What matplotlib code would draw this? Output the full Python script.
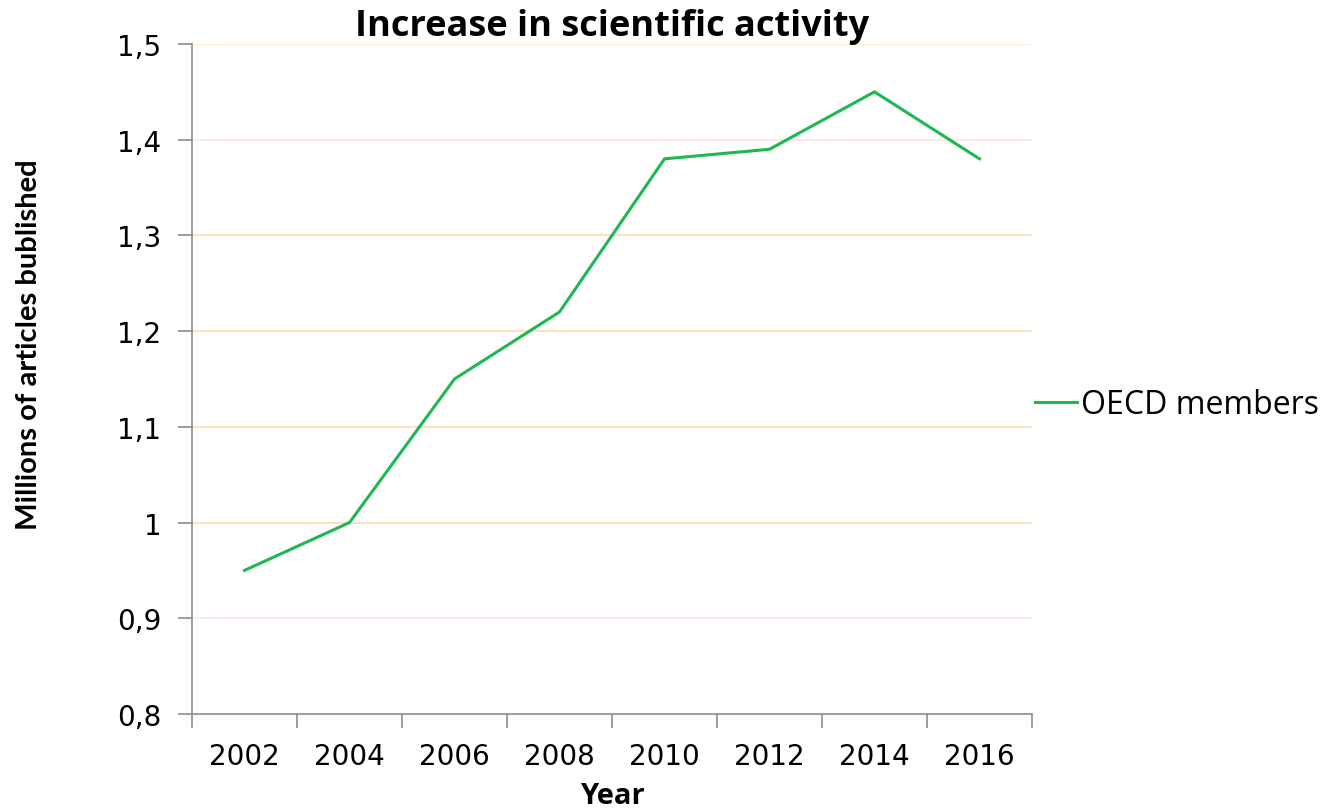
import matplotlib.pyplot as plt
from matplotlib.ticker import FixedLocator

years = ['2002', '2004', '2006', '2008', '2010', '2012', '2014', '2016']
oecd_articles = [0.95, 1.00, 1.15, 1.22, 1.38, 1.39, 1.45, 1.38]
y_ticks = [0.8, 0.9, 1.0, 1.1, 1.2, 1.3, 1.4, 1.5]
y_labels = ['0,8', '0,9', '1', '1,1', '1,2', '1,3', '1,4', '1,5']

plt.rcParams['font.family'] = ['DejaVu Sans']

fig = plt.figure(figsize=(13.38, 8.12), dpi=100)
ax = fig.add_axes([0.1435, 0.1195, 0.6278, 0.8251])

x = range(len(years))
line, = ax.plot(x, oecd_articles, color='#1fb850', linewidth=2.2, label='OECD members')

ax.set_xlim(-0.5, len(years) - 0.5)
ax.set_ylim(0.8, 1.5)

# category ticks sit between the years, labels at the centres
ax.xaxis.set_major_locator(FixedLocator([i - 0.5 for i in range(len(years) + 1)]))
ax.xaxis.set_minor_locator(FixedLocator(list(x)))
ax.set_xticklabels([''] * (len(years) + 1))
ax.set_xticklabels(years, minor=True)
ax.tick_params(axis='x', which='minor', length=0, labelsize=20, pad=20)
ax.tick_params(axis='x', which='major', length=10, width=1.2, color='#8c8c8c')

ax.set_yticks(y_ticks)
ax.set_yticklabels(y_labels)
ax.tick_params(axis='y', length=10, width=1.2, color='#8c8c8c', labelsize=20, pad=12)

# gridlines in the pastel Excel style
grid_colors = ['none', '#fde6ec', '#fddcbc', '#fddcbc', '#fddcbc', '#fddcbc', '#fde6ec', '#fde9cc']
for yv, c in zip(y_ticks, grid_colors):
    if c != 'none':
        ax.axhline(yv, color=c, linewidth=1.3, zorder=0)

for side in ['top', 'right']:
    ax.spines[side].set_visible(False)
for side in ['left', 'bottom']:
    ax.spines[side].set_color('#8c8c8c')
    ax.spines[side].set_linewidth(1.2)

ax.set_title('Increase in scientific activity', fontsize=26, fontweight='bold',
             family=['Open Sans', 'DejaVu Sans'], pad=5)
ax.set_xlabel('Year', fontsize=21, fontweight='bold', family=['Open Sans', 'DejaVu Sans'],
              labelpad=8)
ax.set_ylabel('Millions of articles bublished', fontsize=21, fontweight='bold',
              family=['Lato', 'DejaVu Sans'])
ax.yaxis.set_label_coords(-0.178, 0.553)

ax.legend(handles=[line], loc='center left', bbox_to_anchor=(1.004, 0.462), frameon=False,
          prop={'family': ['Open Sans', 'DejaVu Sans'], 'size': 23},
          handlelength=1.3, handletextpad=0.12, borderaxespad=0, borderpad=0)

fig.savefig('out.png', dpi=100)
